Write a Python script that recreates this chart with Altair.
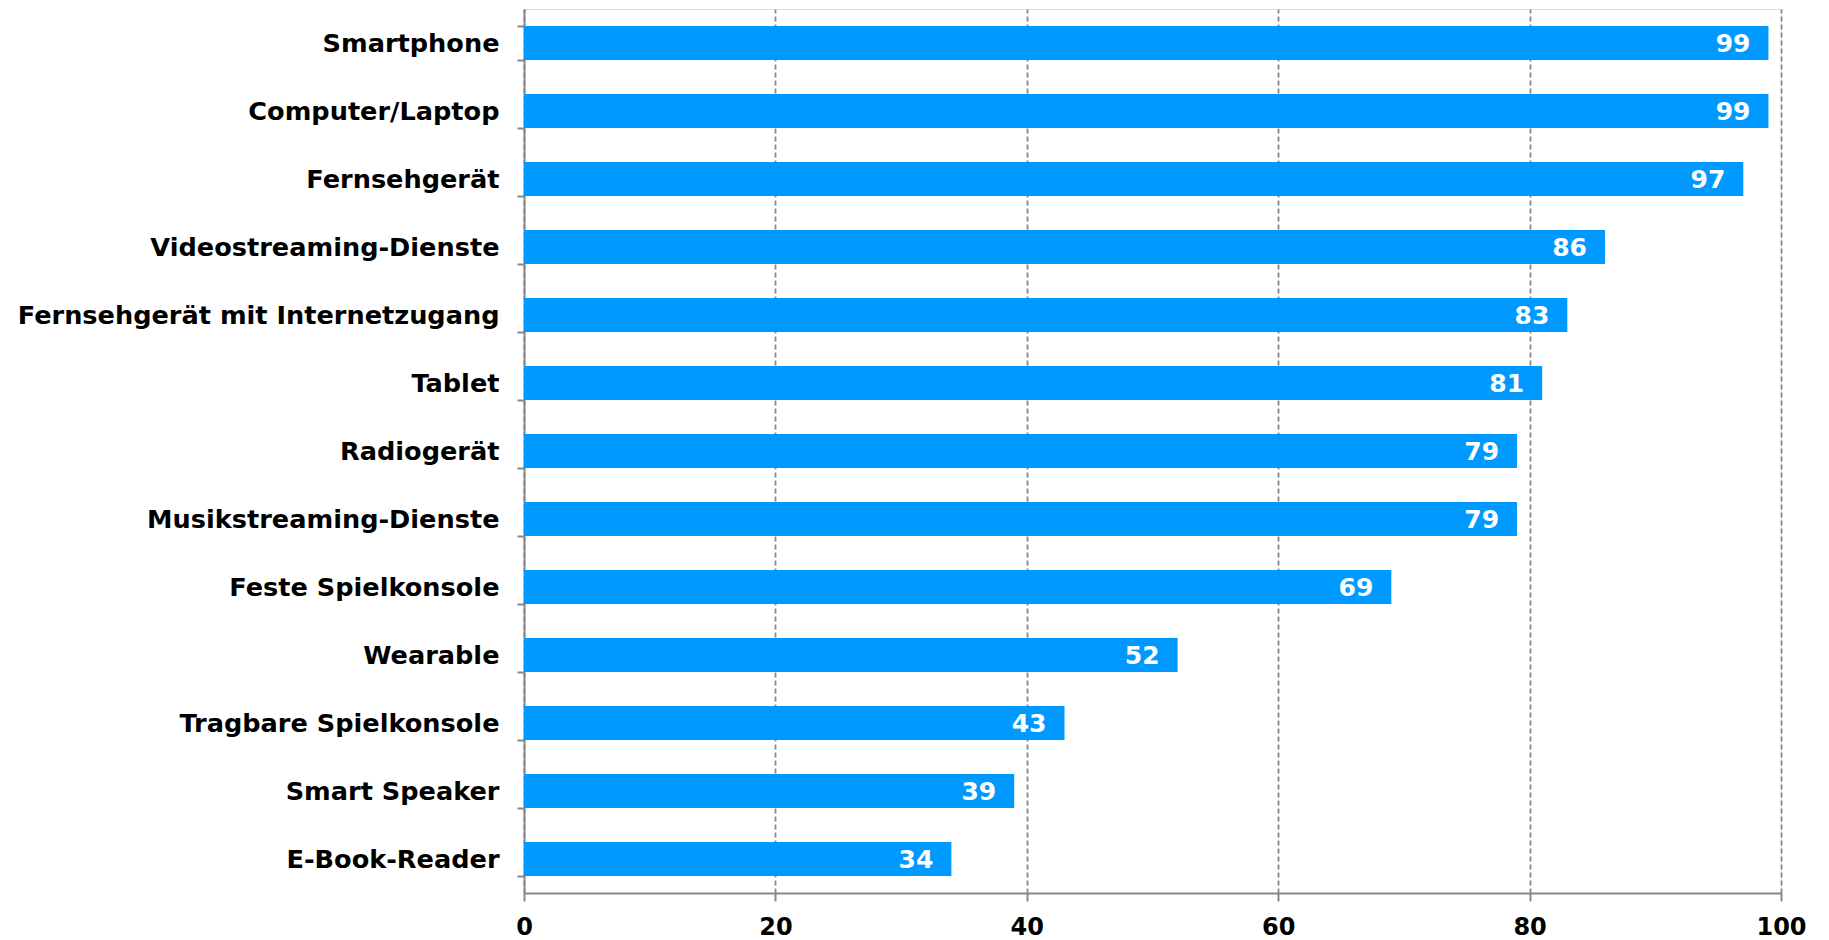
import altair as alt
import pandas as pd

categories = ["Smartphone", "Computer/Laptop", "Fernsehgerät", "Videostreaming-Dienste",
              "Fernsehgerät mit Internetzugang", "Tablet", "Radiogerät",
              "Musikstreaming-Dienste", "Feste Spielkonsole", "Wearable",
              "Tragbare Spielkonsole", "Smart Speaker", "E-Book-Reader"]
values = [99, 99, 97, 86, 83, 81, 79, 79, 69, 52, 43, 39, 34]
x_ticks = [0, 20, 40, 60, 80, 100]

df = pd.DataFrame({"cat": categories, "val": values})

FONT = "DejaVu Sans"
GRAY = "#888888"

y_enc = alt.Y("cat:N", sort=categories, title=None,
              scale=alt.Scale(paddingInner=0.5, paddingOuter=0.25),
              axis=alt.Axis(tickBand="extent", tickSize=7, tickColor=GRAY, tickWidth=2,
                            domainColor=GRAY, domainWidth=2, labelPadding=18,
                            labelFont=FONT, labelFontWeight="bold", labelFontSize=25.6,
                            labelColor="black", grid=False, labelLimit=0))
x_enc = alt.X("val:Q", title=None,
              scale=alt.Scale(domain=[0, 100], nice=False),
              axis=alt.Axis(values=x_ticks, tickSize=8, tickColor=GRAY, tickWidth=2,
                            domainColor=GRAY, domainWidth=2, labelPadding=14,
                            labelFont=FONT, labelFontWeight="bold", labelFontSize=24,
                            labelColor="black", grid=True, gridColor=GRAY,
                            gridDash=[5, 3], gridWidth=1.8, labelFlush=False))

bars = alt.Chart(df).mark_bar(color="#0099ff").encode(x=x_enc, y=y_enc)
labels = alt.Chart(df).mark_text(align="right", baseline="middle", dx=-18, dy=1,
                                 color="white", font=FONT, fontWeight="bold",
                                 fontSize=25).encode(
    x="val:Q", y=alt.Y("cat:N", sort=categories), text="val:Q")

chart = (bars + labels).properties(
    width=1257, height=884,
    autosize=alt.AutoSizeParams(type="none"),
    padding={"left": 516, "top": 1, "right": 40, "bottom": 46},
).configure_view(stroke=GRAY, strokeWidth=2).configure(background="white")

chart.save("out.html", embed_options={"renderer": "svg", "actions": False})
